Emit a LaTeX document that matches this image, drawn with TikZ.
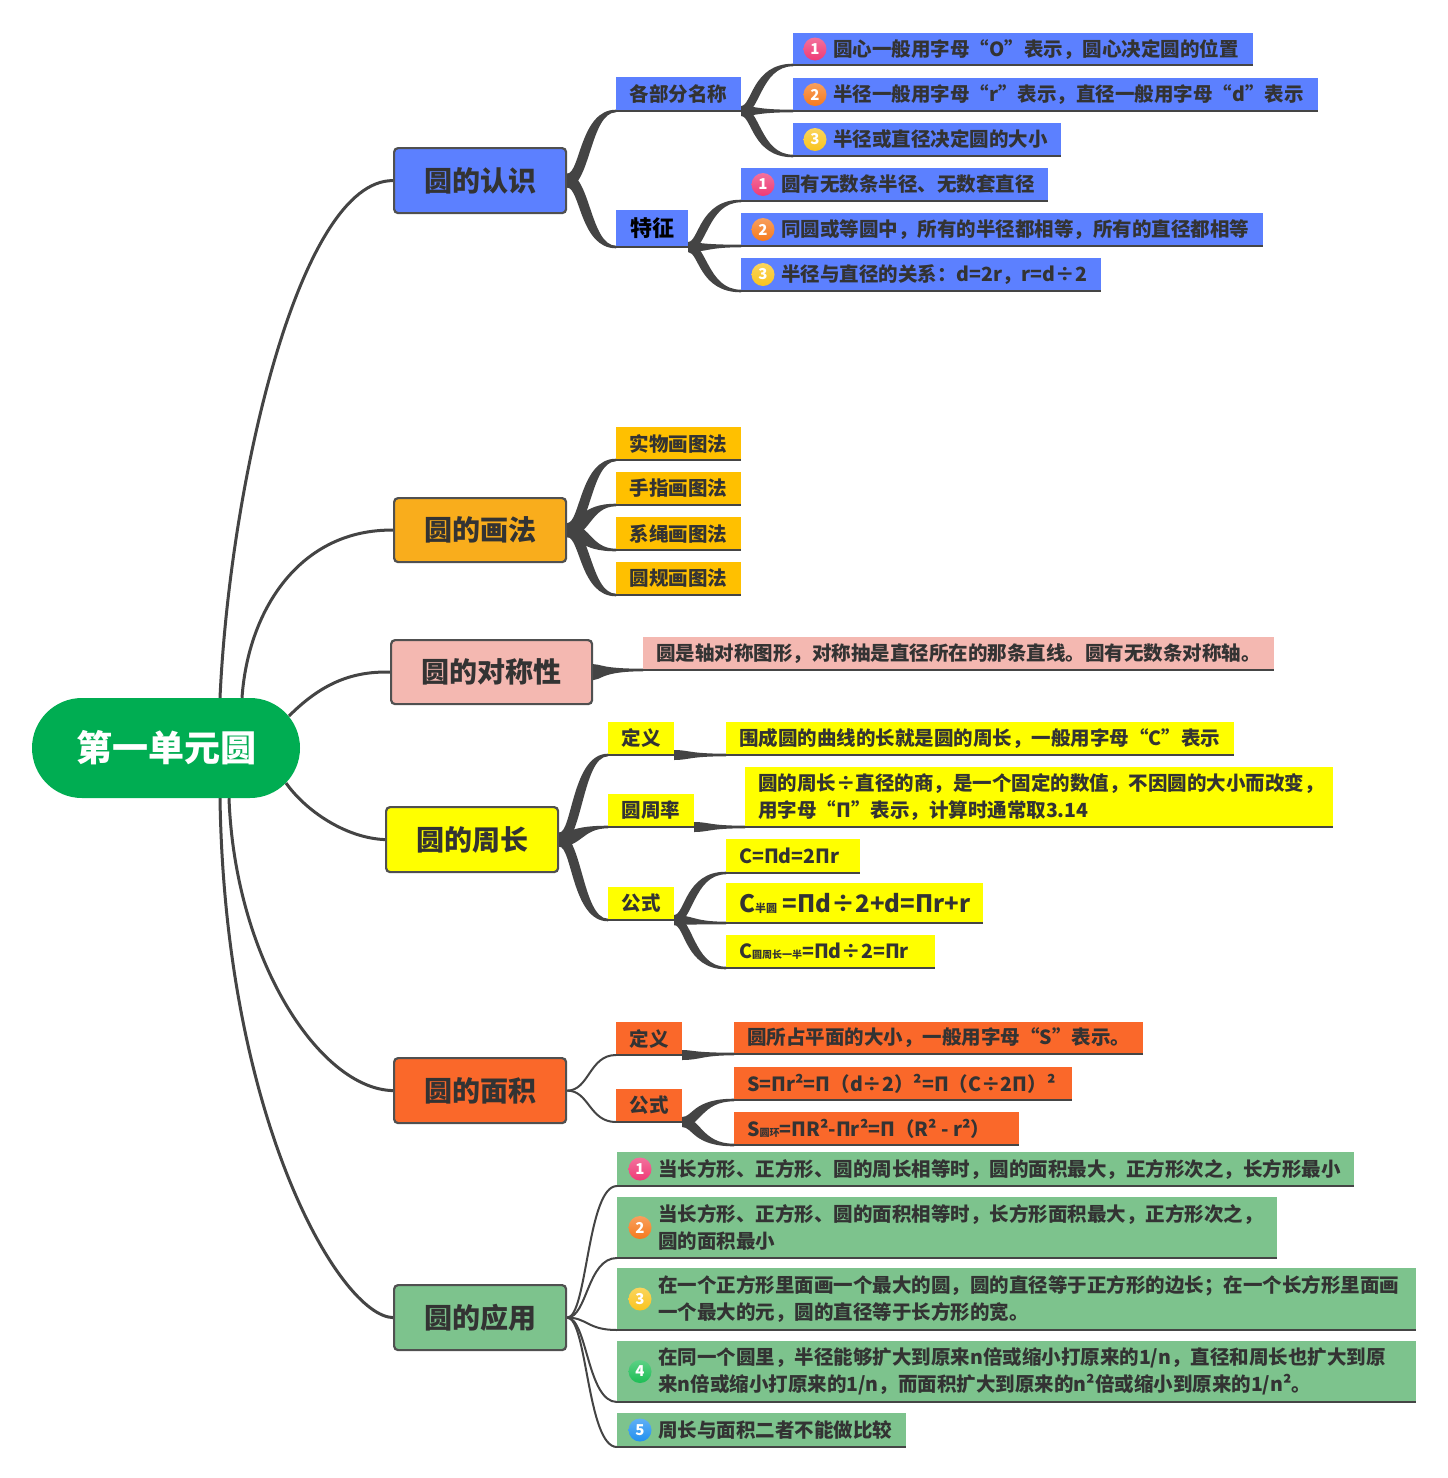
\documentclass[tikz,border=0pt]{standalone}
\usepackage{fontspec}
\setmainfont{Noto Sans CJK SC}
\usetikzlibrary{calc}
\pgfdeclarelayer{bg}
\pgfsetlayers{bg,main}
\definecolor{lc}{HTML}{444444}
\definecolor{tx}{HTML}{333333}
\definecolor{bd}{HTML}{505050}
\definecolor{ul}{HTML}{454545}
\definecolor{cblue}{HTML}{5C80FF}
\definecolor{corg}{HTML}{F9AD1C}
\definecolor{corg2}{HTML}{FFC000}
\definecolor{cpink}{HTML}{F4B8B1}
\definecolor{cyel}{HTML}{FFFF00}
\definecolor{cred}{HTML}{FA682A}
\definecolor{cgrn}{HTML}{7DC38D}
\definecolor{croot}{HTML}{00AD52}
\definecolor{bA}{HTML}{EE3A76}
\definecolor{bB}{HTML}{F57A1E}
\definecolor{bC}{HTML}{F9C41E}
\definecolor{bD}{HTML}{1DBE55}
\definecolor{bE}{HTML}{2290F0}
\tikzset{
  rootl/.style={draw=lc, line width=3pt},
  thinlk/.style={draw=lc, line width=2pt},
  mainbox/.style={draw=bd, line width=2.2pt, rounded corners=4pt, inner sep=0pt,
    font=\fontsize{28}{30}\selectfont\bfseries, text=tx},
  sbox/.style={inner sep=0pt, outer sep=0pt, font=\fontsize{19.5}{22}\selectfont\bfseries, text=tx},
  ibox/.style={inner sep=0pt, outer sep=0pt},
  itext/.style={inner sep=0pt, font=\fontsize{19.5}{27}\selectfont\bfseries, text=tx, align=left, anchor=west},
  uline/.style={draw=ul, line width=2.5pt},
  badge/.style={circle, inner sep=0pt, minimum size=23pt, text=white, font=\fontsize{15}{15}\selectfont\bfseries},
  bshade/.style={top color=#1!72!white, bottom color=#1},
}
% tapered connector: start, end, half width at start, reach, shift
\newcommand\taper[5]{%
  \fill[lc] let \p1=#1, \p2=#2, \n1={sign(\y2-\y1)*#5} in
  (\x1,\y1+#3pt) .. controls (\x1+#4pt-\n1*1pt,\y1+#3pt) and (\x1+#4pt-\n1*1pt,\y2+1.3pt) .. (\x2,\y2+1.3pt)
  -- (\x2,\y2-1.3pt) .. controls (\x1+#4pt+\n1*1pt,\y2-1.3pt) and (\x1+#4pt+\n1*1pt,\y1-#3pt) .. (\x1,\y1-#3pt) -- cycle;}
\newcommand\thinl[3]{%
  \draw[thinlk] let \p1=#1, \p2=#2 in (\p1) .. controls (\x1+#3pt,\y1) and (\x1+#3pt,\y2) .. (\p2);}
% item box: name, fill, x, y, w, h, text offset, text
\newcommand\itm[8]{%
  \node[ibox, fill=#2, minimum width=#5, minimum height=#6, anchor=north west] (#1) at (#3,#4) {};
  \node[itext] (#1t) at ([xshift=#7]#1.west) {#8};
  \draw[uline] (#1.south west) -- (#1.south east);}
% sub box: name, fill, x, y, w, h, options, text
\newcommand\subn[8]{%
  \node[sbox, fill=#2, minimum width=#5, minimum height=#6, anchor=north west, #7] (#1) at (#3,#4) {#8};
  \draw[uline] (#1.south west) -- (#1.south east);}
\begin{document}
\begin{tikzpicture}[x=1pt,y=-1pt]
\useasboundingbox (0,0) rectangle (1448,1478);
% root
\node[fill=croot, rounded corners=50pt, minimum width=268, minimum height=100, inner sep=0pt,
  text=white, font=\fontsize{36}{40}\selectfont\bfseries] (root) at (166,748) {第一单元圆};
% main nodes
\node[mainbox, fill=cblue, minimum width=172, minimum height=65, anchor=north west] (m1) at (393,147) {圆的认识};
\node[mainbox, fill=corg, minimum width=172, minimum height=64, anchor=north west] (m2) at (393,497) {圆的画法};
\node[mainbox, fill=cpink, minimum width=201, minimum height=64, anchor=north west] (m3) at (390,639) {圆的对称性};
\node[mainbox, fill=cyel, minimum width=172, minimum height=65, anchor=north west] (m4) at (385,806) {圆的周长};
\node[mainbox, fill=cred, minimum width=172, minimum height=65, anchor=north west] (m5) at (393,1057) {圆的面积};
\node[mainbox, fill=cgrn, minimum width=172, minimum height=65, anchor=north west] (m6) at (393,1284) {圆的应用};
% section 1
\subn{s11}{cblue}{616}{77}{125}{34}{}{各部分名称}
\subn{s12}{cblue}{616}{210}{72}{37}{text=black, font=\fontsize{22}{24}\selectfont\bfseries}{特征}
\itm{i111}{cblue}{793}{33}{460}{32}{40}{圆心一般用字母“O”表示，圆心决定圆的位置}
\itm{i112}{cblue}{793}{78}{525}{33}{40}{半径一般用字母“r”表示，直径一般用字母“d”表示}
\itm{i113}{cblue}{793}{123}{268}{33}{40}{半径或直径决定圆的大小}
\itm{i121}{cblue}{741}{168}{307}{33}{40}{圆有无数条半径、无数套直径}
\itm{i122}{cblue}{741}{213}{522}{33}{40}{同圆或等圆中，所有的半径都相等，所有的直径都相等}
\itm{i123}{cblue}{741}{258}{360}{33}{40}{半径与直径的关系：d=2r，r=d÷2}
\node[badge, bshade=bA] (i111b) at ([xshift=22]i111.west) {1};
\node[badge, bshade=bB] (i112b) at ([xshift=22]i112.west) {2};
\node[badge, bshade=bC] (i113b) at ([xshift=22]i113.west) {3};
\node[badge, bshade=bA] (i121b) at ([xshift=22]i121.west) {1};
\node[badge, bshade=bB] (i122b) at ([xshift=22]i122.west) {2};
\node[badge, bshade=bC] (i123b) at ([xshift=22]i123.west) {3};
% section 2
\subn{i21}{corg2}{616}{427}{125}{33}{}{实物画图法}
\subn{i22}{corg2}{616}{472}{125}{33}{}{手指画图法}
\subn{i23}{corg2}{616}{517}{125}{33}{}{系绳画图法}
\subn{i24}{corg2}{616}{562}{125}{33}{}{圆规画图法}
% section 3
\itm{i31}{cpink}{643}{637}{631}{33}{13}{圆是轴对称图形，对称抽是直径所在的那条直线。圆有无数条对称轴。}
% section 4
\subn{s41}{cyel}{608}{722}{66}{33}{}{定义}
\subn{s42}{cyel}{608}{794}{86}{33}{}{圆周率}
\subn{s43}{cyel}{608}{887}{66}{33}{}{公式}
\itm{i41}{cyel}{726}{722}{508}{33}{13}{围成圆的曲线的长就是圆的周长，一般用字母“C”表示}
\itm{i42}{cyel}{745}{767}{588}{60}{13}{圆的周长÷直径的商，是一个固定的数值，不因圆的大小而改变，\\用字母“Π”表示，计算时通常取3.14}
\itm{i43}{cyel}{726}{839}{134}{34}{13}{C=Πd=2Πr}
\itm{i44}{cyel}{726}{883}{257}{40}{13}{{\fontsize{24}{28}\selectfont C{\fontsize{11}{11}\selectfont 半圆} =Πd÷2+d=Πr+r}}
\itm{i45}{cyel}{726}{935}{209}{33}{13}{C{\fontsize{10}{10}\selectfont 圆周长一半}=Πd÷2=Πr}
% section 5
\subn{s51}{cred}{616}{1022}{66}{33}{}{定义}
\subn{s52}{cred}{616}{1089}{66}{33}{}{公式}
\itm{i51}{cred}{734}{1022}{409}{32}{13}{圆所占平面的大小，一般用字母“S”表示。}
\itm{i52}{cred}{734}{1067}{338}{33}{13}{S=Πr²=Π（d÷2）²=Π（C÷2Π）²}
\itm{i53}{cred}{734}{1112}{285}{33}{13}{S{\fontsize{10}{10}\selectfont 圆环}=ΠR²-Πr²=Π（R² - r²）}
% section 6
\itm{i61}{cgrn}{617}{1152}{737}{34}{41}{当长方形、正方形、圆的周长相等时，圆的面积最大，正方形次之，长方形最小}
\itm{i62}{cgrn}{617}{1197}{660}{61}{41}{当长方形、正方形、圆的面积相等时，长方形面积最大，正方形次之，\\圆的面积最小}
\itm{i63}{cgrn}{617}{1268}{799}{62}{41}{在一个正方形里面画一个最大的圆，圆的直径等于正方形的边长；在一个长方形里面画\\一个最大的元，圆的直径等于长方形的宽。}
\itm{i64}{cgrn}{617}{1341}{799}{61}{41}{在同一个圆里，半径能够扩大到原来n倍或缩小打原来的1/n，直径和周长也扩大到原\\来n倍或缩小打原来的1/n，而面积扩大到原来的n²倍或缩小到原来的1/n²。}
\itm{i65}{cgrn}{617}{1413}{289}{34}{41}{周长与面积二者不能做比较}
\node[badge, bshade=bA] (i61b) at ([xshift=23]i61.west) {1};
\node[badge, bshade=bB] (i62b) at ([xshift=23]i62.west) {2};
\node[badge, bshade=bC] (i63b) at ([xshift=23]i63.west) {3};
\node[badge, bshade=bD] (i64b) at ([xshift=23]i64.west) {4};
\node[badge, bshade=bE] (i65b) at ([xshift=23]i65.west) {5};
% connectors
\begin{pgfonlayer}{bg}
\fill[white] (0,0) rectangle (1448,1478);
\draw[rootl] ([xshift=54]root.north) .. controls (230,480) and (300,180) .. (m1.west);
\draw[rootl] ([xshift=76]root.north) .. controls (248,610) and (300,529) .. (m2.west);
\draw[rootl] ([shift={(123,-32)}]root.center) .. controls (320,685) and (350,671) .. (m3.west);
\draw[rootl] ([shift={(120,35)}]root.center) .. controls (305,810) and (345,838) .. (m4.west);
\draw[rootl] ([xshift=63]root.south) .. controls (235,960) and (320,1089) .. (m5.west);
\draw[rootl] ([xshift=54]root.south) .. controls (225,1120) and (340,1316) .. (m6.west);
% section 1
\taper{(m1.east)}{(s11.south west)}{7}{18}{5}
\taper{(m1.east)}{(s12.south west)}{7}{18}{5}
\taper{(s11.south east)}{(i111.south west)}{5}{15}{4}
\taper{(s11.south east)}{(i112.south west)}{5}{15}{4}
\taper{(s11.south east)}{(i113.south west)}{5}{15}{4}
\taper{(s12.south east)}{(i121.south west)}{5}{15}{4}
\taper{(s12.south east)}{(i122.south west)}{5}{15}{4}
\taper{(s12.south east)}{(i123.south west)}{5}{15}{4}
% section 2
\taper{(m2.east)}{(i21.south west)}{7}{18}{5}
\taper{(m2.east)}{(i22.south west)}{7}{18}{5}
\taper{(m2.east)}{(i23.south west)}{7}{18}{5}
\taper{(m2.east)}{(i24.south west)}{7}{18}{5}
% section 3
\taper{(m3.east)}{(i31.south west)}{8}{8}{0}
% section 4
\taper{(m4.east)}{(s41.south west)}{7}{18}{5}
\taper{(m4.east)}{(s42.south west)}{7}{18}{5}
\taper{(m4.east)}{(s43.south west)}{7}{18}{5}
\taper{(s41.south east)}{(i41.south west)}{5}{15}{4}
\taper{(s42.south east)}{(i42.south west)}{5}{15}{4}
\taper{(s43.south east)}{(i43.south west)}{5}{15}{4}
\taper{(s43.south east)}{(i44.south west)}{5}{15}{4}
\taper{(s43.south east)}{(i45.south west)}{5}{15}{4}
% section 5
\thinl{(m5.east)}{(s51.south west)}{22}
\thinl{(m5.east)}{(s52.south west)}{22}
\taper{(s51.south east)}{(i51.south west)}{5}{15}{4}
\taper{(s52.south east)}{(i52.south west)}{5}{15}{4}
\taper{(s52.south east)}{(i53.south west)}{5}{15}{4}
% section 6
\thinl{(m6.east)}{(i61.south west)}{20}
\thinl{(m6.east)}{(i62.south west)}{20}
\thinl{(m6.east)}{(i63.south west)}{20}
\thinl{(m6.east)}{(i64.south west)}{20}
\thinl{(m6.east)}{(i65.south west)}{20}
\end{pgfonlayer}
\end{tikzpicture}
\end{document}
